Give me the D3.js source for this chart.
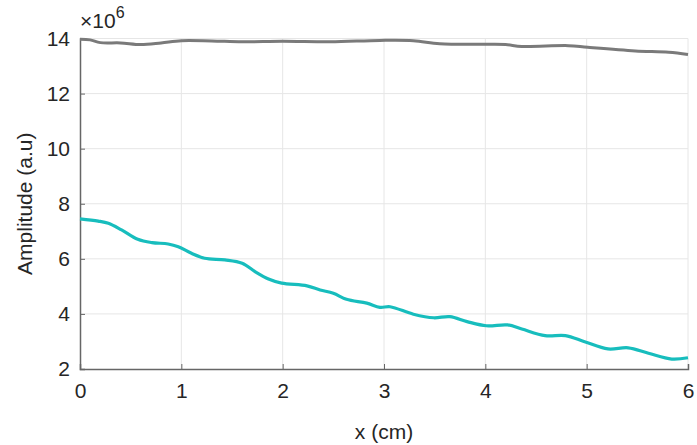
<!DOCTYPE html>
<html><head><meta charset="utf-8">
<script src="https://cdn.jsdelivr.net/npm/d3@7"></script>
<style>body{margin:0;background:#fff;} svg text{font-family:"Liberation Sans",Arial,sans-serif;fill:#262626;}</style>
</head><body><svg id="c" width="697" height="445"></svg>
<script>
const xTicks = [0,1,2,3,4,5,6];
const yTicks = [2,4,6,8,10,12,14];
const grayX = [0,0.1,0.2,0.4,0.6,0.8,1.0,1.3,1.6,2.0,2.47,2.96,3.29,3.55,4.02,4.2,4.36,4.82,5.01,5.48,5.81,6.0];
const grayY = [13.97,13.95,13.85,13.84,13.78,13.84,13.92,13.91,13.88,13.9,13.88,13.93,13.92,13.81,13.79,13.78,13.71,13.74,13.68,13.55,13.5,13.42];
const tealX = [0,0.18,0.28,0.41,0.57,0.71,0.87,0.97,1.1,1.23,1.43,1.6,1.73,1.86,1.99,2.24,2.37,2.5,2.63,2.83,2.96,3.06,3.29,3.49,3.65,3.82,4.01,4.22,4.36,4.59,4.79,4.98,5.21,5.41,5.61,5.84,6.0];
const tealY = [7.45,7.37,7.29,7.05,6.71,6.59,6.54,6.44,6.2,6.02,5.96,5.84,5.53,5.27,5.12,5.02,4.87,4.75,4.53,4.39,4.24,4.26,3.99,3.86,3.9,3.72,3.57,3.6,3.45,3.21,3.21,2.99,2.73,2.77,2.57,2.36,2.41];

const svg = d3.select("#c");
const L=80, R=688, T=38.5, B=369;
const x = d3.scaleLinear().domain([0,6]).range([L,R]);
const y = d3.scaleLinear().domain([2,14]).range([B,T]);

// grid
svg.append("g").selectAll("line").data(xTicks.slice(1)).join("line")
  .attr("x1",d=>x(d)).attr("x2",d=>x(d)).attr("y1",T).attr("y2",B)
  .attr("stroke","#e6e6e6").attr("stroke-width",1);
svg.append("g").selectAll("line").data(yTicks.slice(1)).join("line")
  .attr("x1",L).attr("x2",R).attr("y1",d=>y(d)).attr("y2",d=>y(d))
  .attr("stroke","#e6e6e6").attr("stroke-width",1);

// axes
const xa = svg.append("g").attr("transform",`translate(0,${B})`)
  .call(d3.axisBottom(x).tickValues(xTicks).tickSize(-5).tickPadding(14).tickFormat(d3.format("d")));
const ya = svg.append("g").attr("transform",`translate(${L},0)`)
  .call(d3.axisLeft(y).tickValues(yTicks).tickSize(-5).tickPadding(10).tickFormat(d3.format("d")));
[xa,ya].forEach(a=>{
  a.attr("font-size",null).attr("font-family",null);
  a.select(".domain").attr("stroke","#666").attr("stroke-width",1.5);
  a.selectAll(".tick line").attr("stroke","#666");
  a.selectAll("text").style("font-size","21px").style("fill","#262626");
});

const line = d3.line().x(d=>x(d[0])).y(d=>y(d[1])).curve(d3.curveCatmullRom.alpha(0.5));
svg.append("path").datum(d3.zip(grayX,grayY)).attr("d",line)
  .attr("fill","none").attr("stroke","#7a7a7a").attr("stroke-width",3);
svg.append("path").datum(d3.zip(tealX,tealY)).attr("d",line)
  .attr("fill","none").attr("stroke","#17bdbd").attr("stroke-width",3.2);

// exponent label
const ex = svg.append("text").attr("x",80).attr("y",28).style("font-size","21px");
ex.append("tspan").text("×10");
ex.append("tspan").attr("dy",-10).style("font-size","16px").text("6");

svg.append("text").attr("x",(L+R)/2).attr("y",439).attr("text-anchor","middle")
  .style("font-size","21px").text("x (cm)");
svg.append("text").attr("transform",`translate(32,${(T+B)/2}) rotate(-90)`)
  .attr("text-anchor","middle").style("font-size","21px").text("Amplitude (a.u)");
</script></body></html>
